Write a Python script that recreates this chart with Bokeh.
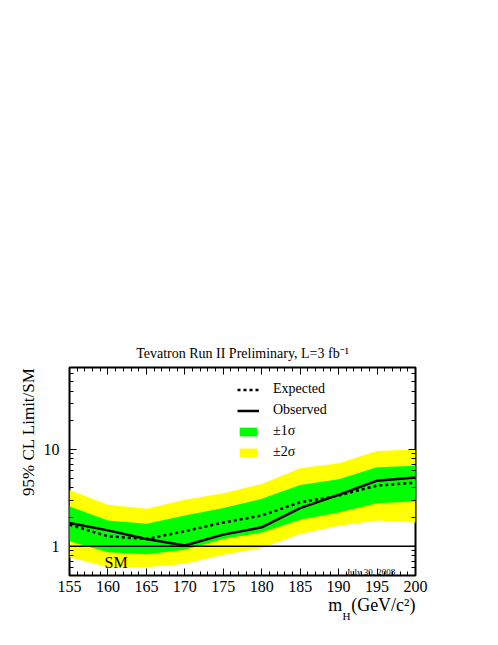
import math
from bokeh.plotting import figure
from bokeh.models import (FixedTicker, LinearAxis, LogAxis, Label, Span, Legend,
                          LegendItem, Range1d, CustomJSTickFormatter, Title)
from bokeh.embed import file_html
from bokeh.resources import INLINE

# ---------------- data ----------------
mass = [155, 160, 165, 170, 175, 180, 185, 190, 195, 200]
observed = [1.74, 1.46, 1.19, 1.02, 1.32, 1.57, 2.48, 3.39, 4.76, 5.12]
expected = [1.67, 1.27, 1.19, 1.43, 1.76, 2.08, 2.85, 3.34, 4.24, 4.54]
minus1 = [1.13, 0.87, 0.83, 0.92, 1.19, 1.39, 1.88, 2.23, 2.79, 2.90]
plus1 = [2.58, 1.85, 1.71, 2.08, 2.48, 3.09, 4.30, 4.92, 6.53, 6.80]
minus2 = [0.77, 0.61, 0.61, 0.66, 0.82, 0.96, 1.34, 1.63, 1.85, 1.76]
plus2 = [3.82, 2.68, 2.44, 3.02, 3.53, 4.40, 6.38, 7.18, 9.61, 10.0]

x_ticks = [155, 160, 165, 170, 175, 180, 185, 190, 195, 200]
x_minor = list(range(155, 201))
y_ticks = [1, 10]
y_tick_labels = {1: "1", 10: "10"}
y_minor = [0.5, 0.6, 0.7, 0.8, 0.9, 2, 3, 4, 5, 6, 7, 8, 9, 20, 30, 40, 50, 60]

title_text = "Tevatron Run II Preliminary, L=3 fb\u207b\u00b9"
ylabel_text = "95% CL Limit/SM"
xlabel_main = "m\u00a0\u00a0(GeV/c\u00b2)"
xlabel_sub = "H"
date_text = "July 30, 2008"
legend_labels = ["Expected", "Observed", "\u00b11\u03c3", "\u00b12\u03c3"]

X0, X1 = 155, 200
Y0, Y1 = 0.5, 70

FONT = "Liberation Serif"

# frame placement in page pixels
FX0, FX1, FY0, FY1 = 69, 415, 367, 575
W, H = 490, 640
ML, MT = FX0, FY0
MR = W - ML - (FX1 - FX0)
MB = H - MT - (FY1 - FY0)


def dx(px):
    return X0 + (px - FX0) / (FX1 - FX0) * (X1 - X0)


def dy(py):
    l0, l1 = math.log10(Y0), math.log10(Y1)
    return 10 ** (l1 - (py - FY0) / (FY1 - FY0) * (l1 - l0))


p = figure(width=W, height=H, y_axis_type="log",
           x_range=Range1d(X0, X1), y_range=Range1d(Y0, Y1),
           output_backend="svg", toolbar_location=None,
           min_border_left=ML, min_border_right=MR,
           min_border_top=MT, min_border_bottom=MB)
p.xgrid.visible = False
p.ygrid.visible = False
p.outline_line_color = "black"
p.outline_line_width = 2
p.background_fill_color = "white"
p.border_fill_color = "white"

# title
p.title.text = title_text
p.title.align = "center"
p.title.text_font = FONT
p.title.text_font_size = "14px"
p.title.text_font_style = "normal"
p.title.text_color = "black"
p.title.standoff = 14

# bands and lines
r2 = p.varea(mass, minus2, plus2, fill_color="#ffff00")
r1 = p.varea(mass, minus1, plus1, fill_color="#00ff00")
p.add_layout(Span(location=1, dimension="width", line_color="black", line_width=1.5))
rexp = p.line(mass, expected, line_color="black", line_width=2.5, line_dash="3 3")
robs = p.line(mass, observed, line_color="black", line_width=2.5)


def style_axis(ax, ticker, show_labels, standoff=5):
    ax.ticker = ticker
    ax.axis_line_color = None
    ax.major_tick_in = 7
    ax.major_tick_out = 0
    ax.minor_tick_in = 4
    ax.minor_tick_out = 0
    ax.major_tick_line_color = "black"
    ax.minor_tick_line_color = "black"
    ax.major_label_standoff = standoff
    ax.major_label_text_font = FONT
    ax.major_label_text_font_size = "16px"
    ax.major_label_text_color = "black"
    if not show_labels:
        ax.major_label_standoff = 0
        ax.major_label_text_font_size = "0px"
        ax.formatter = CustomJSTickFormatter(code="return ''")


style_axis(p.xaxis[0], FixedTicker(ticks=x_ticks, minor_ticks=x_minor), True, 5)
style_axis(p.yaxis[0], FixedTicker(ticks=y_ticks, minor_ticks=y_minor), True, 10)
p.yaxis[0].major_label_overrides = y_tick_labels
p.yaxis[0].major_label_orientation = "horizontal"

top = LinearAxis()
style_axis(top, FixedTicker(ticks=x_ticks, minor_ticks=x_minor), False)
p.add_layout(top, "above")
right = LogAxis()
style_axis(right, FixedTicker(ticks=y_ticks, minor_ticks=y_minor), False)
p.add_layout(right, "right")

# axis titles
yt = Title(text=ylabel_text, align="right", text_font=FONT, text_font_size="17px",
           text_font_style="normal", text_color="black", standoff=6)
p.add_layout(yt, "left")
xt_main = Title(text=xlabel_main, align="right", text_font=FONT, text_font_size="18px",
                text_font_style="normal", text_color="black", standoff=-3)
p.add_layout(xt_main, "below")
xt_sub = Title(text=xlabel_sub, align="right", offset=65, text_font=FONT,
               text_font_size="11px", text_font_style="normal", text_color="black",
               vertical_align="top", standoff=-8)
p.add_layout(xt_sub, "below")

# legend
legend = Legend(items=[
    LegendItem(label=legend_labels[0], renderers=[rexp]),
    LegendItem(label=legend_labels[1], renderers=[robs]),
    LegendItem(label=legend_labels[2], renderers=[r1]),
    LegendItem(label=legend_labels[3], renderers=[r2]),
], location=(237 - FX0, FY1 - 460), orientation="vertical",
    glyph_width=22, glyph_height=11, label_height=11, label_standoff=14,
    spacing=5, padding=0, margin=0,
    label_text_font=FONT, label_text_font_size="14px", label_text_color="black",
    border_line_color=None, background_fill_alpha=0)
p.add_layout(legend, "center")


def lab(text, px, py, size, align="left", baseline="alphabetic"):
    p.add_layout(Label(x=dx(px), y=dy(py), text=text, text_font=FONT,
                       text_font_size=size, text_align=align,
                       text_baseline=baseline, text_color="black"))


lab("SM", 104, 562, "16px")
lab(date_text, 346, 571, "9px")

open("out.html", "w").write(file_html(p, INLINE))
